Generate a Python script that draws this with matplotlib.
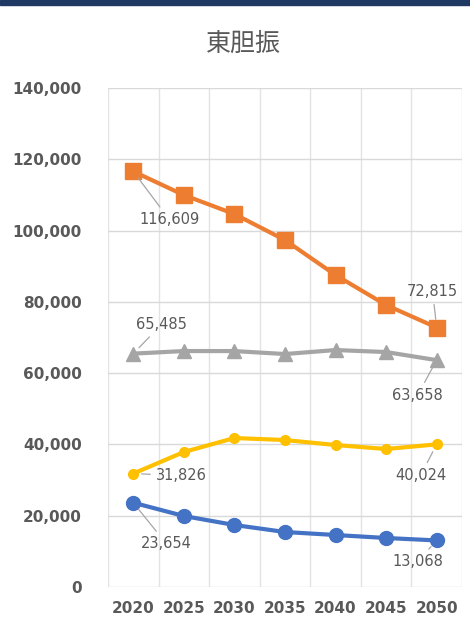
import matplotlib
matplotlib.use("Agg")
import matplotlib.pyplot as plt
from matplotlib.ticker import FuncFormatter, FixedLocator

plt.rcParams['font.family'] = ['DejaVu Sans', 'Noto Sans CJK JP']

# data
years = ["2020", "2025", "2030", "2035", "2040", "2045", "2050"]
orange_vals = [116609, 109980, 104650, 97350, 87530, 79120, 72815]
gray_vals = [65485, 66210, 66200, 65370, 66490, 65930, 63658]
yellow_vals = [31826, 37880, 41800, 41240, 39840, 38720, 40024]
blue_vals = [23654, 19920, 17400, 15430, 14590, 13750, 13068]

title = "東胆振"
label_col = "#595959"

fig = plt.figure(figsize=(4.70, 6.26), dpi=100)
# dark header band at the top
fig.patches.append(plt.Rectangle((0, 0.992), 1, 0.008, transform=fig.transFigure,
                                 color="#1F3864", zorder=0))
ax = fig.add_axes([0.2298, 0.0623, 0.753, 0.797])

x = list(range(len(years)))
series = [
    (orange_vals, "#ED7D31", "s", 11),
    (gray_vals, "#A5A5A5", "^", 10),
    (yellow_vals, "#FFC000", "o", 7),
    (blue_vals, "#4472C4", "o", 10),
]
for vals, col, mk, ms in series:
    ax.plot(x, vals, color=col, lw=3, marker=mk, markersize=ms,
            markerfacecolor=col, markeredgecolor=col, zorder=3)

# first/last point labels with leader lines (offsets in pixels)
labels = [
    (0, orange_vals, (36, -48)), (6, orange_vals, (-4, 36)),
    (0, gray_vals, (28, 29)), (6, gray_vals, (-19, -35)),
    (0, yellow_vals, (48, -2)), (6, yellow_vals, (-16, -31)),
    (0, blue_vals, (33, -41)), (6, blue_vals, (-19, -21)),
]
for i, vals, off in labels:
    ax.annotate(f"{vals[i]:,}", xy=(i, vals[i]), xytext=off, textcoords="offset pixels",
                ha="center", va="center", fontsize=10.5, color=label_col,
                arrowprops=dict(arrowstyle="-", color="#A6A6A6", lw=0.9,
                                shrinkA=2, shrinkB=6), zorder=4)

ax.set_xlim(-0.5, 6.5)
ax.set_ylim(0, 140000)
ax.set_xticks(x)
ax.set_xticklabels(years)
ax.xaxis.set_minor_locator(FixedLocator([k - 0.5 for k in range(len(years) + 1)]))
ax.set_yticks(range(0, 140001, 20000))
ax.yaxis.set_major_formatter(FuncFormatter(lambda v, p: f"{int(v):,}"))
ax.grid(axis="y", which="major", color="#D9D9D9", lw=1)
ax.grid(axis="x", which="minor", color="#E3E3E3", lw=1)
ax.tick_params(which="both", length=0)
ax.tick_params(axis="y", labelsize=11, labelcolor=label_col, pad=19)
ax.tick_params(axis="x", labelsize=11, labelcolor=label_col, pad=10)
for t in ax.get_xticklabels() + ax.get_yticklabels():
    t.set_fontweight("bold")
for s in ax.spines.values():
    s.set_visible(False)
ax.set_axisbelow(True)

fig.text(0.517, 0.930, title, ha="center", va="center", fontsize=18,
         color=label_col, family=["Noto Sans CJK JP"])

fig.savefig("out.png", dpi=100)
